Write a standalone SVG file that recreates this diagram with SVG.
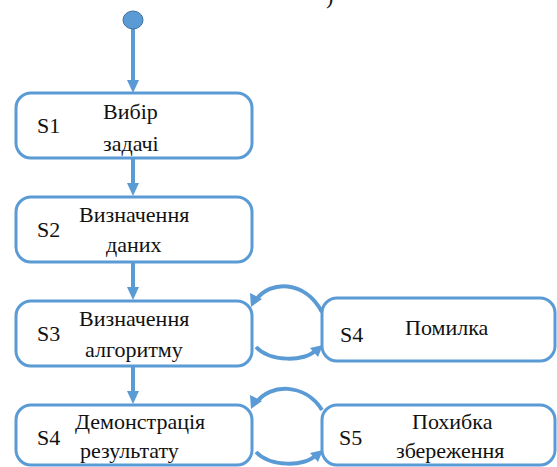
<svg xmlns="http://www.w3.org/2000/svg" width="557" height="467" viewBox="0 0 557 467">
<style>
.box{fill:#fff;stroke:#5b9bd5;stroke-width:3}
text{font-family:"Liberation Serif","Times New Roman",serif;font-size:22px;fill:#111}
.c{fill:none;stroke:#5b9bd5;stroke-width:4}
.ah{fill:#5b9bd5}
</style>
<rect width="557" height="467" fill="#fff"/>
<text x="326" y="4">)</text>
<g id="connectors">
<line class="c" x1="133" y1="26" x2="133" y2="82"/>
<polygon class="ah" points="127,80 139,80 133,93"/>
<line class="c" x1="133" y1="158" x2="133" y2="184"/>
<polygon class="ah" points="127,183 139,183 133,196"/>
<line class="c" x1="133" y1="262" x2="133" y2="288"/>
<polygon class="ah" points="127,287 139,287 133,300"/>
<line class="c" x1="133" y1="366" x2="133" y2="392"/>
<polygon class="ah" points="127,391 139,391 133,404"/>
<path class="c" d="M322 312 C305 280 270 280 256 300"/>
<polygon class="ah" points="251,307 250,293 262,299"/>
<path class="c" d="M256 347 C270 362 305 362 316 350"/>
<polygon class="ah" points="323,345 318,357 310,348"/>
<path class="c" d="M322 410 C305 383 270 383 256 403"/>
<polygon class="ah" points="251,409 250,395 262,401"/>
<path class="c" d="M256 452 C270 467 305 467 316 455"/>
<polygon class="ah" points="323,450 318,462 310,453"/>
</g>
<g id="start"><ellipse cx="133" cy="20" rx="10" ry="9" fill="#5b9bd5" stroke="#41719c" stroke-width="1"/></g>
<g id="s1">
<rect class="box" x="16" y="93" width="236" height="65" rx="15"/>
<text x="37" y="133">S1</text>
<text x="103" y="119">Вибір</text>
<text x="103" y="151">задачі</text>
</g>
<g id="s2">
<rect class="box" x="16" y="197" width="236" height="65" rx="15"/>
<text x="37" y="237">S2</text>
<text x="79" y="222">Визначення</text>
<text x="106" y="252">даних</text>
</g>
<g id="s3">
<rect class="box" x="16" y="301" width="236" height="65" rx="15"/>
<text x="37" y="341">S3</text>
<text x="79" y="326">Визначення</text>
<text x="85" y="357">алгоритму</text>
</g>
<g id="s4err">
<rect class="box" x="322" y="298" width="233" height="63" rx="15"/>
<text x="340" y="342">S4</text>
<text x="405" y="335">Помилка</text>
</g>
<g id="s4">
<rect class="box" x="16" y="405" width="236" height="60" rx="15"/>
<text x="37" y="445">S4</text>
<text x="75" y="429">Демонстрація</text>
<text x="80" y="458">результату</text>
</g>
<g id="s5">
<rect class="box" x="322" y="405" width="233" height="60" rx="15"/>
<text x="339" y="445">S5</text>
<text x="412" y="429">Похибка</text>
<text x="396" y="458">збереження</text>
</g>
</svg>
